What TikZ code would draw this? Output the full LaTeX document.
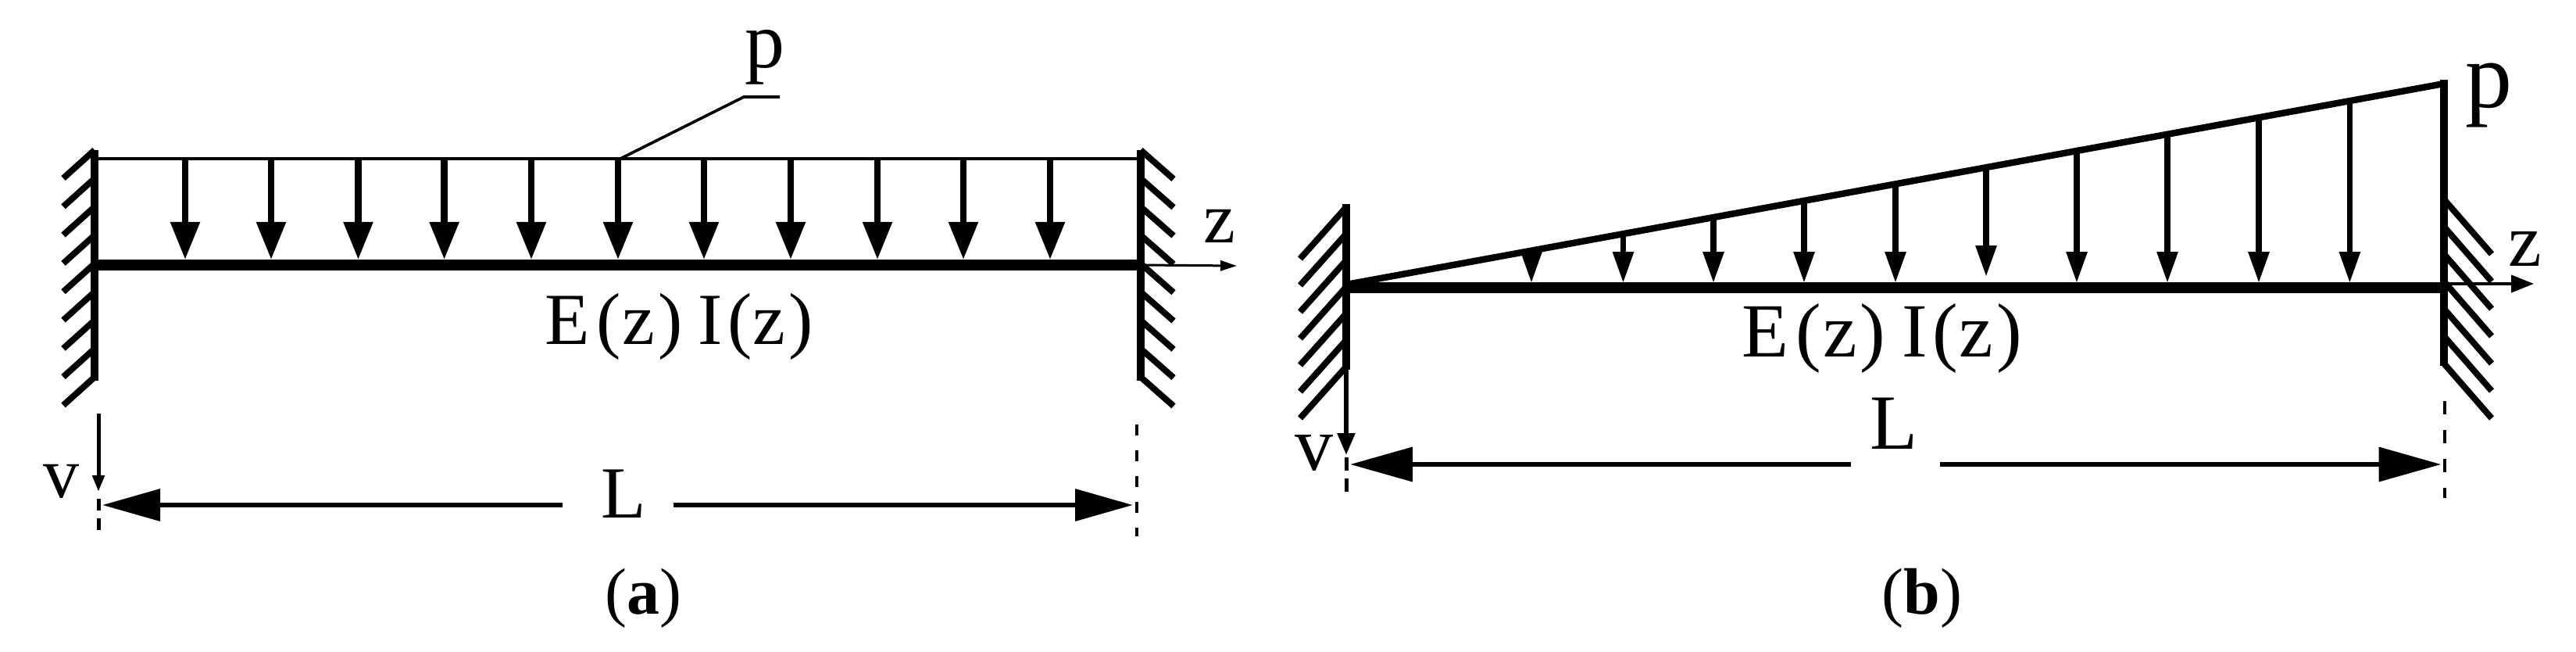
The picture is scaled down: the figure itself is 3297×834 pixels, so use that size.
\documentclass[tikz,border=0pt]{standalone}
\usepackage{fontspec}
\setmainfont{Liberation Serif}
\usetikzlibrary{arrows.meta,calc}
\newcommand{\EIlabel}{E\kern.1em(\kern.017em z\kern.045em)\kern.21em I\kern.064em(\kern.017em z\kern.045em)}
\tikzset{
  lbl/.style={inner sep=0pt,outer sep=0pt,anchor=base,font=\fontsize{#1}{#1}\selectfont},
  lblw/.style={inner sep=0pt,outer sep=0pt,anchor=base west,font=\fontsize{#1}{#1}\selectfont},
  beam/.style={line width=7pt,line cap=butt},
  wall/.style={line width=5pt,line cap=butt},
  hatchline/.style={line width=4pt,line cap=butt},
  thinline/.style={line width=1.8pt},
  loadA/.style={line width=4.2pt,-{Triangle[length=24pt,width=18pt]}},
  loadB/.style={line width=3.6pt,-{Triangle[length=20pt,width=12.8pt]}},
  dimA/.style={line width=3.2pt,-{Triangle[length=37pt,width=20pt]}},
  dimB/.style={line width=3.4pt,-{Triangle[length=40pt,width=21.5pt]}},
  guideA/.style={line width=2pt,dash pattern=on 7pt off 9.5pt},
  guideB/.style={line width=2.2pt,dash pattern=on 8.5pt off 10pt},
  guideV/.style={line width=2.5pt,dash pattern=on 7.5pt off 5pt},
}
\begin{document}
\begin{tikzpicture}[x=0.5pt,y=-0.5pt]
\useasboundingbox (0,0) rectangle (3297,834);
% ---------- panel a
\coordinate (aL) at (121,339);
\coordinate (aR) at (1460,339);
\coordinate (aLt) at (121,192);
\coordinate (aLb) at (121,487);
\coordinate (aRt) at (1460,192);
\coordinate (aRb) at (1460,487);
\coordinate (aTopL) at (121,203);
\coordinate (aTopR) at (1460,203);
\foreach \i in {0,...,8}{
  \coordinate (ahl\i) at (121,{192+36.3*\i});
  \coordinate (ahle\i) at (81,{228+36.3*\i});
  \coordinate (ahr\i) at (1460,{192+36.3*\i});
  \coordinate (ahre\i) at (1502,{229+36.3*\i});
  \draw[hatchline] (ahl\i) -- (ahle\i);
  \draw[hatchline] (ahr\i) -- (ahre\i);
}
\draw[thinline] (aTopL) -- (aTopR);
\foreach \x [count=\i] in {237,347,458.5,568.6,680,791,901,1012,1123,1233,1344}{
  \coordinate (as\i) at (\x,203);
  \coordinate (ae\i) at (\x,332);
  \draw[loadA] (as\i) -- (ae\i);
}
\draw[wall] (aLt) -- (aLb);
\draw[wall] (aRt) -- (aRb);
\draw[beam] (aL) -- (aR);
\coordinate (aLead) at (794,203);
\coordinate (aLeadK) at (952,124);
\coordinate (aLeadE) at (998,124);
\draw[thinline] (aLead) -- (aLeadK) -- (aLeadE);
\node[lbl=51] (ap) at (979,87) {p};
\coordinate (aZe) at (1583,340);
\draw[line width=1.5pt,-{Triangle[length=10.5pt,width=6.5pt]}] (aR) -- (aZe);
\node[lbl=46] (az) at (1561,310) {z};
\node[lblw=47] (aEI) at (697,440) {\EIlabel};
\coordinate (aVs) at (126,529);
\coordinate (aVe) at (126,629);
\draw[line width=2.5pt,-{Triangle[length=10.5pt,width=7.5pt]}] (aVs) -- (aVe);
\node[lbl=46] (av) at (78,636) {v};
\coordinate (aGs) at (126,638);
\coordinate (aGe) at (126,678);
\draw[guideV] (aGs) -- (aGe);
\coordinate (aGRs) at (1455,543);
\coordinate (aGRe) at (1455,686);
\draw[guideA] (aGRs) -- (aGRe);
\coordinate (aDl) at (720,646);
\coordinate (aDlt) at (131,646);
\coordinate (aDr) at (862,646);
\coordinate (aDrt) at (1450,646);
\draw[dimA] (aDl) -- (aDlt);
\draw[dimA] (aDr) -- (aDrt);
\node[lbl=47] (aLlab) at (798.5,662) {L};
\node[lbl=42] (acap) at (823,785) {(\textbf{a})};
% ---------- panel b
\coordinate (bL) at (1723,368);
\coordinate (bR) at (3128,368);
\coordinate (bIncS) at (1723,364);
\coordinate (bIncE) at (3128,107);
\coordinate (bLt) at (1723,261);
\coordinate (bLb) at (1723,473);
\coordinate (bRt) at (3128,102);
\coordinate (bRb) at (3128,468);
\foreach \i in {0,...,6}{
  \coordinate (bhl\i) at (1723,{265+34*\i});
  \coordinate (bhle\i) at (1664,{331+34*\i});
  \coordinate (bhr\i) at (3128,{255+35*\i});
  \coordinate (bhre\i) at (3189,{325+35*\i});
  \draw[hatchline] (bhl\i) -- (bhle\i);
  \draw[hatchline] (bhr\i) -- (bhre\i);
}
\draw[line width=4.2pt] (bIncS) -- (bIncE);
\foreach \x/\ty [count=\i] in {1960/362,2077.5/362,2193/362,2309/362,2426/362,2542/354,2658/362,2774/362,2891/362,3007.4/362}{
  \coordinate (bs\i) at (\x,{364-0.18292*(\x-1723)});
  \coordinate (be\i) at (\x,\ty);
  \draw[loadB] (bs\i) -- (be\i);
}
\draw[wall] (bLt) -- (bLb);
\draw[line width=5.3pt,line cap=butt] (bRt) -- (bRb);
\draw[beam] (bL) -- (bR);
\node[lbl=60] (bp) at (3185,138) {p};
\coordinate (bZs) at (3128,363);
\coordinate (bZe) at (3243,363);
\draw[line width=2pt,-{Triangle[length=14.5pt,width=11pt]}] (bZs) -- (bZe);
\node[lbl=48] (bz) at (3232,340) {z};
\node[lblw=49] (bEI) at (2229,456) {\EIlabel};
\coordinate (bVe) at (1723,582);
\draw[line width=2.7pt,-{Triangle[length=14pt,width=11pt]}] (bLb) -- (bVe);
\node[lbl=49] (bv) at (1682,601) {v};
\coordinate (bGs) at (1723,585);
\coordinate (bGe) at (1723,629);
\draw[guideV,dash pattern=on 8.5pt off 5pt] (bGs) -- (bGe);
\coordinate (bGRs) at (3129,513);
\coordinate (bGRe) at (3129,637);
\draw[guideB] (bGRs) -- (bGRe);
\coordinate (bDl) at (2369,594);
\coordinate (bDlt) at (1728,594);
\coordinate (bDr) at (2483,594);
\coordinate (bDrt) at (3124.5,594);
\draw[dimB] (bDl) -- (bDlt);
\draw[dimB] (bDr) -- (bDrt);
\node[lbl=50] (bLlab) at (2424,574.5) {L};
\node[lbl=42] (bcap) at (2460,785) {(\textbf{b})};
\end{tikzpicture}
\end{document}
